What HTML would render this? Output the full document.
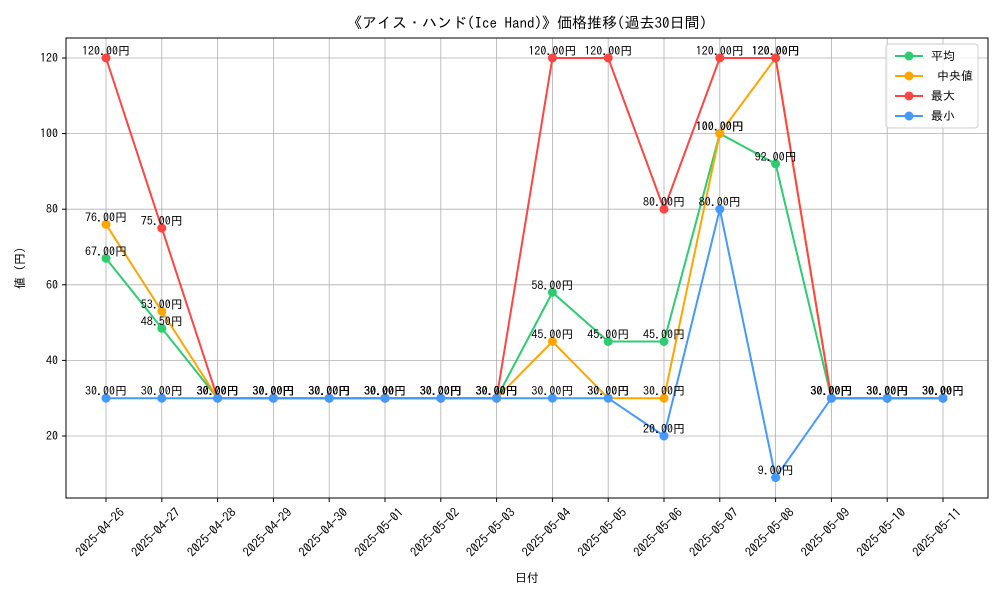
<!DOCTYPE html>
<html><head><meta charset="utf-8"><style>
body{margin:0;background:#fff}
text{font-family:"IPAGothic","Liberation Sans","Noto Sans CJK JP",sans-serif}
</style></head><body>
<svg id="chart" width="1000" height="600" xmlns="http://www.w3.org/2000/svg">
<rect width="1000" height="600" fill="#fff"/>
<text x="527" y="28" font-size="15" text-anchor="middle">《アイス・ハンド(Ice Hand)》価格推移(過去30日間)</text>
<g id="grid"></g>
<rect x="66" y="38" width="922" height="460" fill="none" stroke="#000" stroke-width="1"/>
<g id="xt"></g><g id="yt"></g><g id="series"></g>
<text x="527" y="582" font-size="12" text-anchor="middle">日付</text>
<text transform="translate(24,268) rotate(-90)" font-size="12" text-anchor="middle">値 (円)</text>
<g id="legend"></g>
</svg>
<script>
const categories=["2025-04-26","2025-04-27","2025-04-28","2025-04-29","2025-04-30","2025-05-01","2025-05-02","2025-05-03","2025-05-04","2025-05-05","2025-05-06","2025-05-07","2025-05-08","2025-05-09","2025-05-10","2025-05-11"];
const avgValues=[67,48.5,30,30,30,30,30,30,58,45,45,100,92,30,30,30];
const medianValues=[76,53,30,30,30,30,30,30,45,30,30,100,120,30,30,30];
const maxValues=[120,75,30,30,30,30,30,30,120,120,80,120,120,30,30,30];
const minValues=[30,30,30,30,30,30,30,30,30,30,20,80,9,30,30,30];
const yTicks=[20,40,60,80,100,120];
const seriesNames=["平均"," 中央値","最大","最小"];
const NS="http://www.w3.org/2000/svg";
const X=i=>106+i*(943-106)/15;
const Y=v=>511.6-v*3.78;
function mk(t,a,p){const e=document.createElementNS(NS,t);for(const k in a)e.setAttribute(k,a[k]);p.appendChild(e);return e;}
const grid=document.getElementById('grid'),xt=document.getElementById('xt'),yt=document.getElementById('yt');
categories.forEach((c,i)=>{
  const l=mk('line',{x1:X(i),x2:X(i),y1:38,y2:498,stroke:'#b0b0b0','stroke-width':0.8},grid);
  
  
  const tk=mk('line',{x1:X(i),x2:X(i),y1:498,y2:502,stroke:'#000'},xt);
  
  
  const ax=X(i)+13, ay=507;
  const t=mk('text',{x:ax,y:ay,'font-size':12.5,'text-anchor':'end',transform:`rotate(-45 ${ax} ${ay})`,dy:'0.7em'},xt);
  t.textContent=c;
  
  
});
yTicks.forEach(v=>{
  const l=mk('line',{x1:66,x2:988,y1:Y(v),y2:Y(v),stroke:'#b0b0b0','stroke-width':0.8},grid);
  
  
  const tk=mk('line',{x1:62,x2:66,y1:Y(v),y2:Y(v),stroke:'#000'},yt);
  
  
  const t=mk('text',{x:58,y:Y(v)+4,'font-size':12,'text-anchor':'end'},yt);
  t.textContent=v;
  
  
});
const sg=document.getElementById('series');
const all=[[avgValues,'#2ecc71','avg'],[medianValues,'#ffa500','median'],[maxValues,'#ff4444','max'],[minValues,'#4499ff','min']];
all.forEach(([vals,col,nm])=>{
  const g=mk('g',{},sg);
  
  
  const p=mk('polyline',{points:vals.map((v,i)=>X(i)+','+Y(v)).join(' '),fill:'none',stroke:col,'stroke-width':2},g);
  
  
  vals.forEach((v,i)=>{
    const c=mk('circle',{cx:X(i),cy:Y(v),r:4.5,fill:col},g);
    
    
  });
});
all.forEach(([vals,col,nm])=>{
  vals.forEach((v,i)=>{
    const t=mk('text',{x:X(i),y:Y(v)-3,'font-size':12,'text-anchor':'middle'},sg);
    t.textContent=v.toFixed(2)+'円';
    
    
  });
});
const lg=document.getElementById('legend');
const box=mk('rect',{x:886,y:44,width:92,height:84,rx:3,fill:'#fff','fill-opacity':0.8,stroke:'#ccc'},lg);


all.forEach(([v,col,nm],k)=>{
  const y=56+k*20;
  const l=mk('line',{x1:895,x2:923,y1:y,y2:y,stroke:col,'stroke-width':2},lg);
  
  
  const c=mk('circle',{cx:909,cy:y,r:4.5,fill:col},lg);
  
  
  const t=mk('text',{x:931,y:y+4,'font-size':12,'xml:space':'preserve'},lg);
  t.setAttribute('style','white-space:pre');
  t.textContent=seriesNames[k];
  
  
});
</script>
</body></html>
